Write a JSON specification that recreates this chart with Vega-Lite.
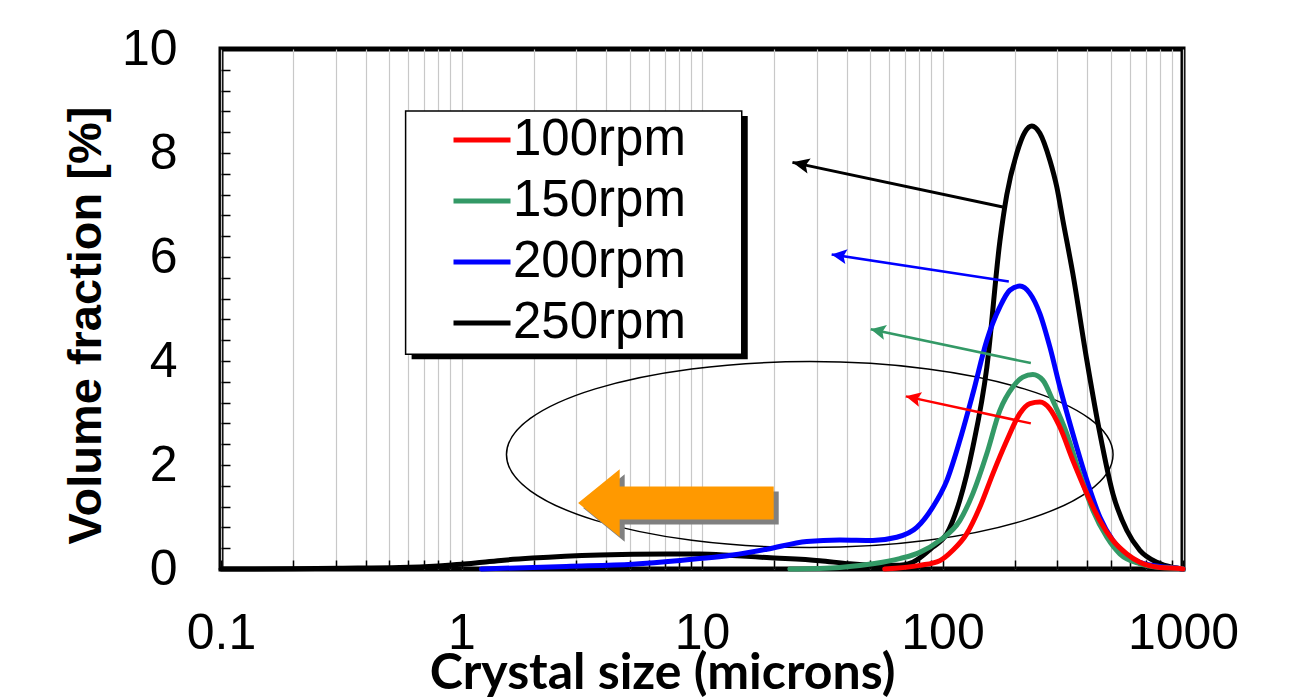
{
  "$schema": "https://vega.github.io/schema/vega-lite/v6.json",
  "width": 962,
  "height": 520,
  "autosize": "none",
  "padding": {"left": 221, "top": 49, "right": 114, "bottom": 131},
  "background": "white",
  "datasets": {
    "curves": [
      {"s": "250rpm", "x": 0.1, "y": 0},
      {"s": "250rpm", "x": 0.2, "y": 0.005},
      {"s": "250rpm", "x": 0.311, "y": 0.015},
      {"s": "250rpm", "x": 0.553, "y": 0.03},
      {"s": "250rpm", "x": 0.8, "y": 0.06},
      {"s": "250rpm", "x": 1.0, "y": 0.09},
      {"s": "250rpm", "x": 1.224, "y": 0.13},
      {"s": "250rpm", "x": 1.5, "y": 0.17},
      {"s": "250rpm", "x": 1.976, "y": 0.21},
      {"s": "250rpm", "x": 3.75, "y": 0.27},
      {"s": "250rpm", "x": 7.13, "y": 0.29},
      {"s": "250rpm", "x": 9.78, "y": 0.29},
      {"s": "250rpm", "x": 13.4, "y": 0.26},
      {"s": "250rpm", "x": 18.6, "y": 0.22},
      {"s": "250rpm", "x": 30.9, "y": 0.16},
      {"s": "250rpm", "x": 41.2, "y": 0.1},
      {"s": "250rpm", "x": 56.5, "y": 0.07},
      {"s": "250rpm", "x": 66.4, "y": 0.07},
      {"s": "250rpm", "x": 75.2, "y": 0.13},
      {"s": "250rpm", "x": 91.1, "y": 0.42},
      {"s": "250rpm", "x": 104.2, "y": 0.68},
      {"s": "250rpm", "x": 118.0, "y": 1.32},
      {"s": "250rpm", "x": 133.7, "y": 2.34},
      {"s": "250rpm", "x": 152.9, "y": 3.88},
      {"s": "250rpm", "x": 173.2, "y": 6.3},
      {"s": "250rpm", "x": 185.1, "y": 7.2},
      {"s": "250rpm", "x": 203.8, "y": 8.0},
      {"s": "250rpm", "x": 220, "y": 8.4},
      {"s": "250rpm", "x": 235.3, "y": 8.52},
      {"s": "250rpm", "x": 254.0, "y": 8.38},
      {"s": "250rpm", "x": 279.5, "y": 7.86},
      {"s": "250rpm", "x": 298.9, "y": 7.34},
      {"s": "250rpm", "x": 316.5, "y": 6.71},
      {"s": "250rpm", "x": 348.3, "y": 5.68},
      {"s": "250rpm", "x": 398.4, "y": 4.01},
      {"s": "250rpm", "x": 451.1, "y": 2.61},
      {"s": "250rpm", "x": 510.9, "y": 1.45},
      {"s": "250rpm", "x": 584.3, "y": 0.74},
      {"s": "250rpm", "x": 661.6, "y": 0.36},
      {"s": "250rpm", "x": 778.7, "y": 0.13},
      {"s": "250rpm", "x": 907.8, "y": 0.03},
      {"s": "250rpm", "x": 1000, "y": 0},
      {"s": "200rpm", "x": 1.209, "y": 0},
      {"s": "200rpm", "x": 2.729, "y": 0.05},
      {"s": "200rpm", "x": 5.148, "y": 0.09},
      {"s": "200rpm", "x": 9.78, "y": 0.2},
      {"s": "200rpm", "x": 13.4, "y": 0.27},
      {"s": "200rpm", "x": 18.6, "y": 0.38},
      {"s": "200rpm", "x": 27.26, "y": 0.53},
      {"s": "200rpm", "x": 37.4, "y": 0.56},
      {"s": "200rpm", "x": 51.3, "y": 0.55},
      {"s": "200rpm", "x": 64.5, "y": 0.61},
      {"s": "200rpm", "x": 78.2, "y": 0.8},
      {"s": "200rpm", "x": 91.1, "y": 1.19},
      {"s": "200rpm", "x": 104.2, "y": 1.7},
      {"s": "200rpm", "x": 118.0, "y": 2.47},
      {"s": "200rpm", "x": 133.7, "y": 3.37},
      {"s": "200rpm", "x": 152.9, "y": 4.4},
      {"s": "200rpm", "x": 173.2, "y": 5.04},
      {"s": "200rpm", "x": 190.5, "y": 5.36},
      {"s": "200rpm", "x": 209.7, "y": 5.44},
      {"s": "200rpm", "x": 230.8, "y": 5.3},
      {"s": "200rpm", "x": 254.0, "y": 4.91},
      {"s": "200rpm", "x": 279.5, "y": 4.27},
      {"s": "200rpm", "x": 307.6, "y": 3.5},
      {"s": "200rpm", "x": 348.3, "y": 2.6},
      {"s": "200rpm", "x": 398.4, "y": 1.7},
      {"s": "200rpm", "x": 451.1, "y": 1.0},
      {"s": "200rpm", "x": 510.9, "y": 0.55},
      {"s": "200rpm", "x": 584.3, "y": 0.26},
      {"s": "200rpm", "x": 661.6, "y": 0.13},
      {"s": "200rpm", "x": 801.6, "y": 0.05},
      {"s": "200rpm", "x": 943.5, "y": 0.02},
      {"s": "200rpm", "x": 1000, "y": 0},
      {"s": "150rpm", "x": 23.17, "y": 0},
      {"s": "150rpm", "x": 37.4, "y": 0.03},
      {"s": "150rpm", "x": 51.3, "y": 0.1},
      {"s": "150rpm", "x": 66.4, "y": 0.2},
      {"s": "150rpm", "x": 80.5, "y": 0.32},
      {"s": "150rpm", "x": 97.4, "y": 0.55},
      {"s": "150rpm", "x": 118.0, "y": 0.93},
      {"s": "150rpm", "x": 133.7, "y": 1.45},
      {"s": "150rpm", "x": 152.9, "y": 2.22},
      {"s": "150rpm", "x": 173.2, "y": 3.05},
      {"s": "150rpm", "x": 196.1, "y": 3.5},
      {"s": "150rpm", "x": 215.8, "y": 3.69},
      {"s": "150rpm", "x": 237.5, "y": 3.74},
      {"s": "150rpm", "x": 261.4, "y": 3.63},
      {"s": "150rpm", "x": 287.6, "y": 3.24},
      {"s": "150rpm", "x": 328.9, "y": 2.6},
      {"s": "150rpm", "x": 372.5, "y": 1.83},
      {"s": "150rpm", "x": 421.9, "y": 1.13},
      {"s": "150rpm", "x": 482.4, "y": 0.61},
      {"s": "150rpm", "x": 546.4, "y": 0.29},
      {"s": "150rpm", "x": 661.6, "y": 0.1},
      {"s": "150rpm", "x": 801.6, "y": 0.03},
      {"s": "150rpm", "x": 970.7, "y": 0.01},
      {"s": "150rpm", "x": 1000, "y": 0},
      {"s": "100rpm", "x": 57.5, "y": 0},
      {"s": "100rpm", "x": 80.5, "y": 0.07},
      {"s": "100rpm", "x": 97.4, "y": 0.16},
      {"s": "100rpm", "x": 110.4, "y": 0.36},
      {"s": "100rpm", "x": 126.2, "y": 0.68},
      {"s": "100rpm", "x": 143.0, "y": 1.19},
      {"s": "100rpm", "x": 161.9, "y": 1.83},
      {"s": "100rpm", "x": 185.1, "y": 2.47},
      {"s": "100rpm", "x": 209.7, "y": 2.99},
      {"s": "100rpm", "x": 230.8, "y": 3.18},
      {"s": "100rpm", "x": 254.0, "y": 3.21},
      {"s": "100rpm", "x": 279.5, "y": 3.08},
      {"s": "100rpm", "x": 307.6, "y": 2.73},
      {"s": "100rpm", "x": 348.3, "y": 2.09},
      {"s": "100rpm", "x": 398.4, "y": 1.45},
      {"s": "100rpm", "x": 451.1, "y": 0.93},
      {"s": "100rpm", "x": 510.9, "y": 0.55},
      {"s": "100rpm", "x": 584.3, "y": 0.29},
      {"s": "100rpm", "x": 661.6, "y": 0.13},
      {"s": "100rpm", "x": 801.6, "y": 0.03},
      {"s": "100rpm", "x": 970.7, "y": 0.01},
      {"s": "100rpm", "x": 1000, "y": 0}
    ],
    "arrows": [
      {"s": "250rpm", "x": 23.77, "y": 7.82, "x2": 178.2, "y2": 6.96},
      {"s": "200rpm", "x": 34.6, "y": 6.05, "x2": 188.7, "y2": 5.53},
      {"s": "150rpm", "x": 50.3, "y": 4.61, "x2": 233.0, "y2": 3.96},
      {"s": "100rpm", "x": 70.4, "y": 3.32, "x2": 233.0, "y2": 2.8}
    ],
    "legendbox": [
      {"x": 0.5856, "x2": 14.63, "y": 8.807, "y2": 4.129}
    ],
    "ellipse": [{"x": 28.06, "y": 2.2}],
    "bigarrow": [{"x": 7.79, "y": 1.27}]
  },
  "encoding": {
    "x": {
      "field": "x",
      "type": "quantitative",
      "scale": {"type": "log", "domain": [0.1, 1000], "nice": false},
      "axis": {
        "title": "Crystal size (microns)",
        "values": [0.1, 0.2, 0.3, 0.4, 0.5, 0.6, 0.7, 0.8, 0.9, 1, 2, 3, 4, 5, 6, 7, 8, 9, 10, 20, 30, 40, 50, 60, 70, 80, 90, 100, 200, 300, 400, 500, 600, 700, 800, 900, 1000],
        "format": "~g",
        "labelExpr": "(datum.value == 0.1 || datum.value == 1 || datum.value == 10 || datum.value == 100 || datum.value == 1000) ? datum.label : ''",
        "labelOverlap": false,
        "labelFlush": false,
        "labelBound": false,
        "labelPadding": 48,
        "grid": true,
        "gridColor": "#c8c8c8",
        "gridWidth": 1.2,
        "titleFont": "Lato",
        "titleFontWeight": "bold",
        "titleFontSize": 50,
        "titleX": 441,
        "titleY": 119,
        "titleAlign": "center",
        "titleBaseline": "alphabetic",
        "titleAnchor": null
      }
    },
    "y": {
      "field": "y",
      "type": "quantitative",
      "scale": {"domain": [0, 10], "nice": false, "zero": false},
      "axis": {
        "title": "Volume fraction [%]",
        "values": [0, 0.4, 0.8, 1.2, 1.6, 2, 2.4, 2.8, 3.2, 3.6, 4, 4.4, 4.8, 5.2, 5.6, 6, 6.4, 6.8, 7.2, 7.6, 8, 8.4, 8.8, 9.2, 9.6, 10],
        "format": "~g",
        "labelExpr": "(datum.value == 0 || datum.value == 2 || datum.value == 4 || datum.value == 6 || datum.value == 8 || datum.value == 10) ? datum.label : ''",
        "labelOverlap": false,
        "labelFlush": false,
        "labelBound": false,
        "labelPadding": 53,
        "grid": false,
        "titleFont": "Liberation Sans",
        "titleFontWeight": "bold",
        "titleFontSize": 47,
        "titleX": -121,
        "titleY": 276,
        "titleAngle": -90,
        "titleAlign": "center",
        "titleBaseline": "alphabetic",
        "titleAnchor": null
      }
    }
  },
  "layer": [
    {
      "data": {"name": "legendbox"},
      "mark": {"type": "rect", "fill": "black", "xOffset": 6, "x2Offset": 6, "yOffset": 5, "y2Offset": 5},
      "encoding": {"x2": {"field": "x2"}, "y2": {"field": "y2"}}
    },
    {
      "data": {"name": "legendbox"},
      "mark": {"type": "rect", "fill": "white", "stroke": "black", "strokeWidth": 1.5},
      "encoding": {"x2": {"field": "x2"}, "y2": {"field": "y2"}}
    },
    {
      "data": {"name": "ellipse"},
      "mark": {
        "type": "point",
        "shape": "M -1 0 C -1 -0.1693 -0.5523 -0.3066 0 -0.3066 C 0.5523 -0.3066 1 -0.1693 1 0 C 1 0.1693 0.5523 0.3066 0 0.3066 C -0.5523 0.3066 -1 0.1693 -1 0 Z",
        "size": 367943,
        "filled": false,
        "stroke": "black",
        "strokeWidth": 1.5,
        "opacity": 1
      }
    },
    {
      "data": {"name": "bigarrow"},
      "mark": {
        "type": "point",
        "shape": "M -1 0 L -0.575 -0.345 L -0.575 -0.169 L 1 -0.169 L 1 0.169 L -0.575 0.169 L -0.575 0.345 Z",
        "size": 38259,
        "filled": true,
        "fill": "#808080",
        "strokeWidth": 0,
        "opacity": 1,
        "xOffset": 5,
        "yOffset": 5
      }
    },
    {
      "data": {"name": "bigarrow"},
      "mark": {
        "type": "point",
        "shape": "M -1 0 L -0.575 -0.345 L -0.575 -0.169 L 1 -0.169 L 1 0.169 L -0.575 0.169 L -0.575 0.345 Z",
        "size": 38259,
        "filled": true,
        "fill": "#FF9900",
        "strokeWidth": 0,
        "opacity": 1
      }
    },
    {
      "data": {"name": "curves"},
      "mark": {"type": "line", "strokeWidth": 5, "interpolate": "monotone", "strokeCap": "round"},
      "encoding": {
        "color": {
          "field": "s",
          "type": "nominal",
          "scale": {"domain": ["100rpm", "150rpm", "200rpm", "250rpm"], "range": ["#FF0000", "#339966", "#0000FF", "#000000"]},
          "legend": {
            "title": null,
            "orient": "none",
            "legendX": 230,
            "legendY": 60,
            "symbolType": "stroke",
            "symbolSize": 3249,
            "symbolStrokeWidth": 5,
            "labelFont": "Liberation Sans",
            "labelFontSize": 51,
            "labelColor": "black",
            "labelOffset": 0,
            "labelLimit": 0,
            "rowPadding": 5,
            "padding": 0,
            "strokeColor": null,
            "fillColor": null
          }
        },
        "order": {"field": "x", "type": "quantitative"}
      }
    },
    {
      "data": {"name": "arrows"},
      "transform": [{"filter": "datum.s == '250rpm'"}],
      "layer": [
        {"mark": {"type": "rule", "color": "black", "strokeWidth": 3}, "encoding": {"x2": {"field": "x2"}, "y2": {"field": "y2"}}},
        {"mark": {"type": "point", "shape": "M 0 0 L 2 -0.9 L 1.6 0 L 2 0.9 Z", "size": 289, "angle": 12.1, "filled": true, "fill": "black", "strokeWidth": 0, "opacity": 1}}
      ]
    },
    {
      "data": {"name": "arrows"},
      "transform": [{"filter": "datum.s == '200rpm'"}],
      "layer": [
        {"mark": {"type": "rule", "color": "#0000FF", "strokeWidth": 2.5}, "encoding": {"x2": {"field": "x2"}, "y2": {"field": "y2"}}},
        {"mark": {"type": "point", "shape": "M 0 0 L 2 -1 L 1.6 0 L 2 1 Z", "size": 225, "angle": 8.7, "filled": true, "fill": "#0000FF", "strokeWidth": 0, "opacity": 1}}
      ]
    },
    {
      "data": {"name": "arrows"},
      "transform": [{"filter": "datum.s == '150rpm'"}],
      "layer": [
        {"mark": {"type": "rule", "color": "#339966", "strokeWidth": 2.5}, "encoding": {"x2": {"field": "x2"}, "y2": {"field": "y2"}}},
        {"mark": {"type": "point", "shape": "M 0 0 L 2 -1 L 1.6 0 L 2 1 Z", "size": 225, "angle": 12.0, "filled": true, "fill": "#339966", "strokeWidth": 0, "opacity": 1}}
      ]
    },
    {
      "data": {"name": "arrows"},
      "transform": [{"filter": "datum.s == '100rpm'"}],
      "layer": [
        {"mark": {"type": "rule", "color": "#FF0000", "strokeWidth": 2.5}, "encoding": {"x2": {"field": "x2"}, "y2": {"field": "y2"}}},
        {"mark": {"type": "point", "shape": "M 0 0 L 2 -1 L 1.6 0 L 2 1 Z", "size": 225, "angle": 12.2, "filled": true, "fill": "#FF0000", "strokeWidth": 0, "opacity": 1}}
      ]
    }
  ],
  "config": {
    "view": {"stroke": "black", "strokeWidth": 5},
    "axis": {
      "domain": false,
      "labelFont": "Liberation Sans",
      "labelFontSize": 50,
      "labelColor": "black",
      "tickColor": "black",
      "tickWidth": 1.5,
      "tickSize": -9,
      "titleColor": "black"
    }
  }
}
